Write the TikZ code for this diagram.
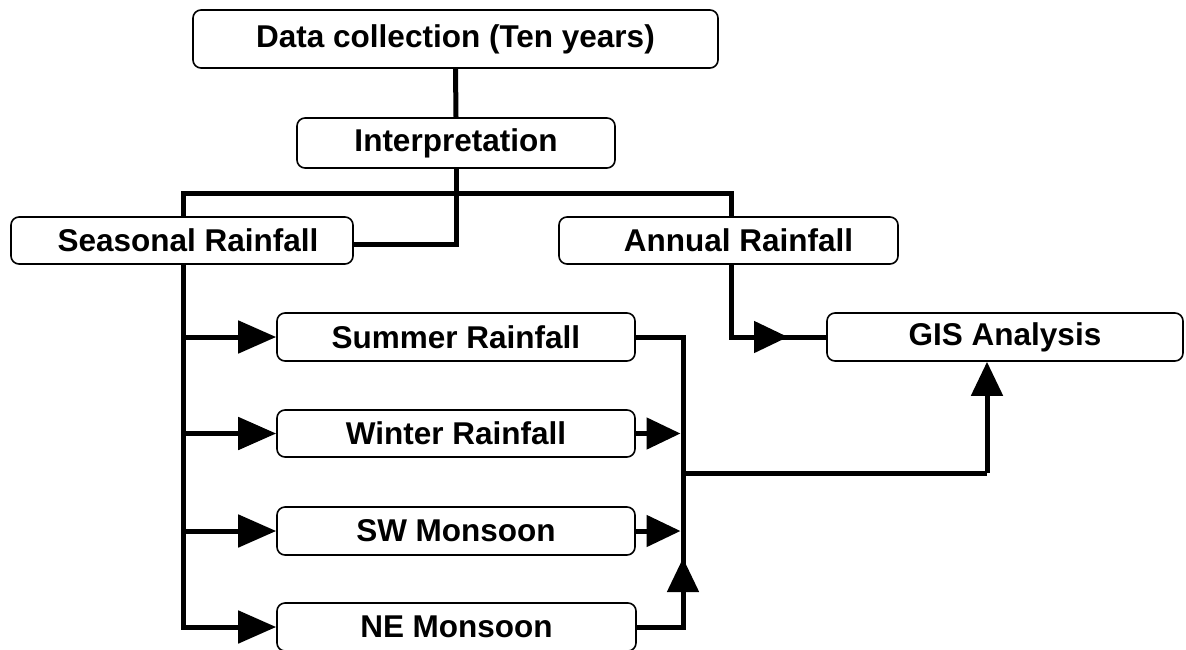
\documentclass[tikz,border=0pt]{standalone}
\usepackage{fontspec}
\setmainfont{Liberation Sans}
\usetikzlibrary{arrows.meta}
\tikzset{
  box/.style={draw=black, line width=1.6pt, rounded corners=8pt, fill=white,
    inner sep=0pt, font=\fontsize{31.5}{36}\selectfont\bfseries},
  conn/.style={line width=5pt, line join=miter, draw=black},
  arr/.style={conn, -{Triangle[length=34pt,width=31pt]}},
  arrl/.style={conn, -{Triangle[length=38pt,width=32pt]}},
}
\begin{document}
\begin{tikzpicture}[x=1pt,y=1pt]
\useasboundingbox (0,0) rectangle (1186,-649);
% nodes
\node[box, minimum width=525pt, minimum height=58pt] (data) at (455.5,-39) {Data collection (Ten years)};
\node[box, minimum width=318pt, minimum height=50pt] (interp) at (456,-143) {Interpretation};
\node[box, minimum width=342pt, minimum height=47pt] (seasonal) at (182,-240.5) {\hspace{12pt}Seasonal Rainfall};
\node[box, minimum width=339pt, minimum height=47pt] (annual) at (728.5,-240.5) {\hspace{20pt}Annual Rainfall};
\node[box, minimum width=358pt, minimum height=48pt] (summer) at (456,-337) {Summer Rainfall};
\node[box, minimum width=358pt, minimum height=47pt] (winter) at (456,-433.5) {Winter Rainfall};
\node[box, minimum width=358pt, minimum height=48pt] (sw) at (456,-531) {SW Monsoon};
\node[box, minimum width=359pt, minimum height=48pt] (ne) at (456.5,-627) {NE Monsoon};
\node[box, minimum width=356pt, minimum height=48pt] (gis) at (1005,-337) {GIS Analysis};
% coordinates
\coordinate (lbtop) at (183,-193);
\coordinate (lbbot) at (183,-627);
\coordinate (tbr) at (731,-193);
\coordinate (sconn) at (353,-244);
\coordinate (rtop) at (683,-337);
\coordinate (rbot) at (683,-627);
\coordinate (rmid) at (683,-473);
\coordinate (neup) at (683,-558);
\coordinate (gisin) at (987,-473);
\coordinate (ancorner) at (731,-337);
\coordinate (annarr) at (788,-337);
% connectors
\draw[conn] (data.south) -- (interp.north);
\draw[conn] (interp.south) -- (interp.south |- sconn) -- (sconn);
\draw[conn] (seasonal.north -| lbtop) -- (lbtop) -- (tbr) -- (annual.north -| tbr);
\draw[arrl] (seasonal.south -| lbtop) -- (lbbot) -- (ne.west);
\draw[arrl] (summer.west -| lbtop) -- (summer.west);
\draw[arrl] (winter.west -| lbtop) -- (winter.west);
\draw[arrl] (sw.west -| lbtop) -- (sw.west);
\draw[conn] (summer.east) -- (rtop) -- (rbot) -- (ne.east);
\draw[arr] (winter.east) -- ([xshift=-2.5pt]winter.east -| rtop);
\draw[arr] (sw.east) -- ([xshift=-2.5pt]sw.east -| rtop);
\draw[arr] (rbot) -- (neup);
\draw[conn] (rmid) -- (gisin);
\draw[arr] (gisin) -- (gis.south -| gisin);
\draw[conn] (annual.south -| ancorner) -- (ancorner) -- (gis.west);
\draw[arr] (ancorner) -- (annarr);
\end{tikzpicture}
\end{document}
